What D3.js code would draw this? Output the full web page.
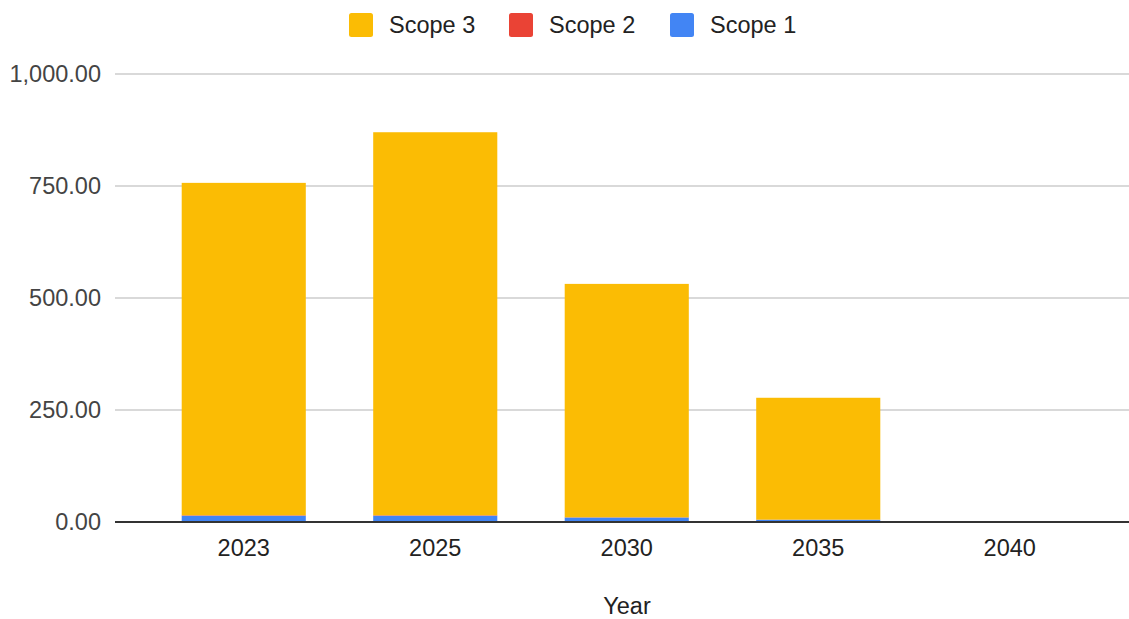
<!DOCTYPE html>
<html><head><meta charset="utf-8">
<script src="https://cdn.jsdelivr.net/npm/d3@7"></script>
<style>body{margin:0;background:#fff}svg{display:block;font-family:Arial,"Liberation Sans",sans-serif}</style>
</head><body><svg id="c" width="1129" height="619"></svg>
<script>
const years = ["2023","2025","2030","2035","2040"];
const scope1 = [14, 14, 10, 5, 0];
const scope2 = [1, 1, 0.5, 0.3, 0];
const scope3 = [742, 855, 521, 272, 0];
const seriesNames = ["Scope 3","Scope 2","Scope 1"];
const colors = {"Scope 1":"#4285f4","Scope 2":"#ea4335","Scope 3":"#fbbc04"};
const yTicks = [0, 250, 500, 750, 1000];

const svg = d3.select("#c");
const x = d3.scaleBand().domain(years).range([148, 1105.5]).paddingInner(0.352).paddingOuter(0.176);
const y = d3.scaleLinear().domain([0, 1000]).range([522, 74]);
const fmt = d3.format(",.2f");
const fs = 23.5;

svg.append("g").selectAll("line").data(yTicks.filter(d=>d>0)).join("line")
  .attr("x1",115).attr("x2",1129).attr("y1",d=>y(d)).attr("y2",d=>y(d))
  .attr("stroke","#cccccc").attr("stroke-width",1.5);

svg.append("g").selectAll("text").data(yTicks).join("text")
  .attr("x",101).attr("y",d=>y(d)).attr("dy","0.35em").attr("text-anchor","end")
  .attr("font-size",fs).attr("fill","#444").text(d=>fmt(d));

const rows = years.map((yr,i)=>({year:yr,"Scope 1":scope1[i],"Scope 2":scope2[i],"Scope 3":scope3[i]}));
const stack = d3.stack().keys(["Scope 1","Scope 2","Scope 3"])(rows);
svg.append("g").selectAll("g").data(stack).join("g").attr("fill",d=>colors[d.key])
  .selectAll("rect").data(d=>d).join("rect")
  .attr("x",d=>x(d.data.year)).attr("width",x.bandwidth())
  .attr("y",d=>y(d[1])).attr("height",d=>Math.max(0,y(d[0])-y(d[1])));

svg.append("line").attr("x1",115).attr("x2",1129).attr("y1",y(0)).attr("y2",y(0))
  .attr("stroke","#333").attr("stroke-width",2);

svg.append("g").selectAll("text").data(years).join("text")
  .attr("x",d=>x(d)+x.bandwidth()/2).attr("y",556).attr("text-anchor","middle")
  .attr("font-size",fs).attr("fill","#222").text(d=>d);

svg.append("text").attr("x",627).attr("y",614).attr("text-anchor","middle")
  .attr("font-size",fs).attr("fill","#222").text("Year");

const legX = [349, 509, 670];
const leg = svg.append("g").selectAll("g").data(seriesNames).join("g")
  .attr("transform",(d,i)=>`translate(${legX[i]},13)`);
leg.append("rect").attr("width",24).attr("height",24).attr("rx",2.5).attr("fill",d=>colors[d]);
leg.append("text").attr("x",40).attr("y",12).attr("dy","0.35em")
  .attr("font-size",fs).attr("fill","#222").text(d=>d);
</script></body></html>
